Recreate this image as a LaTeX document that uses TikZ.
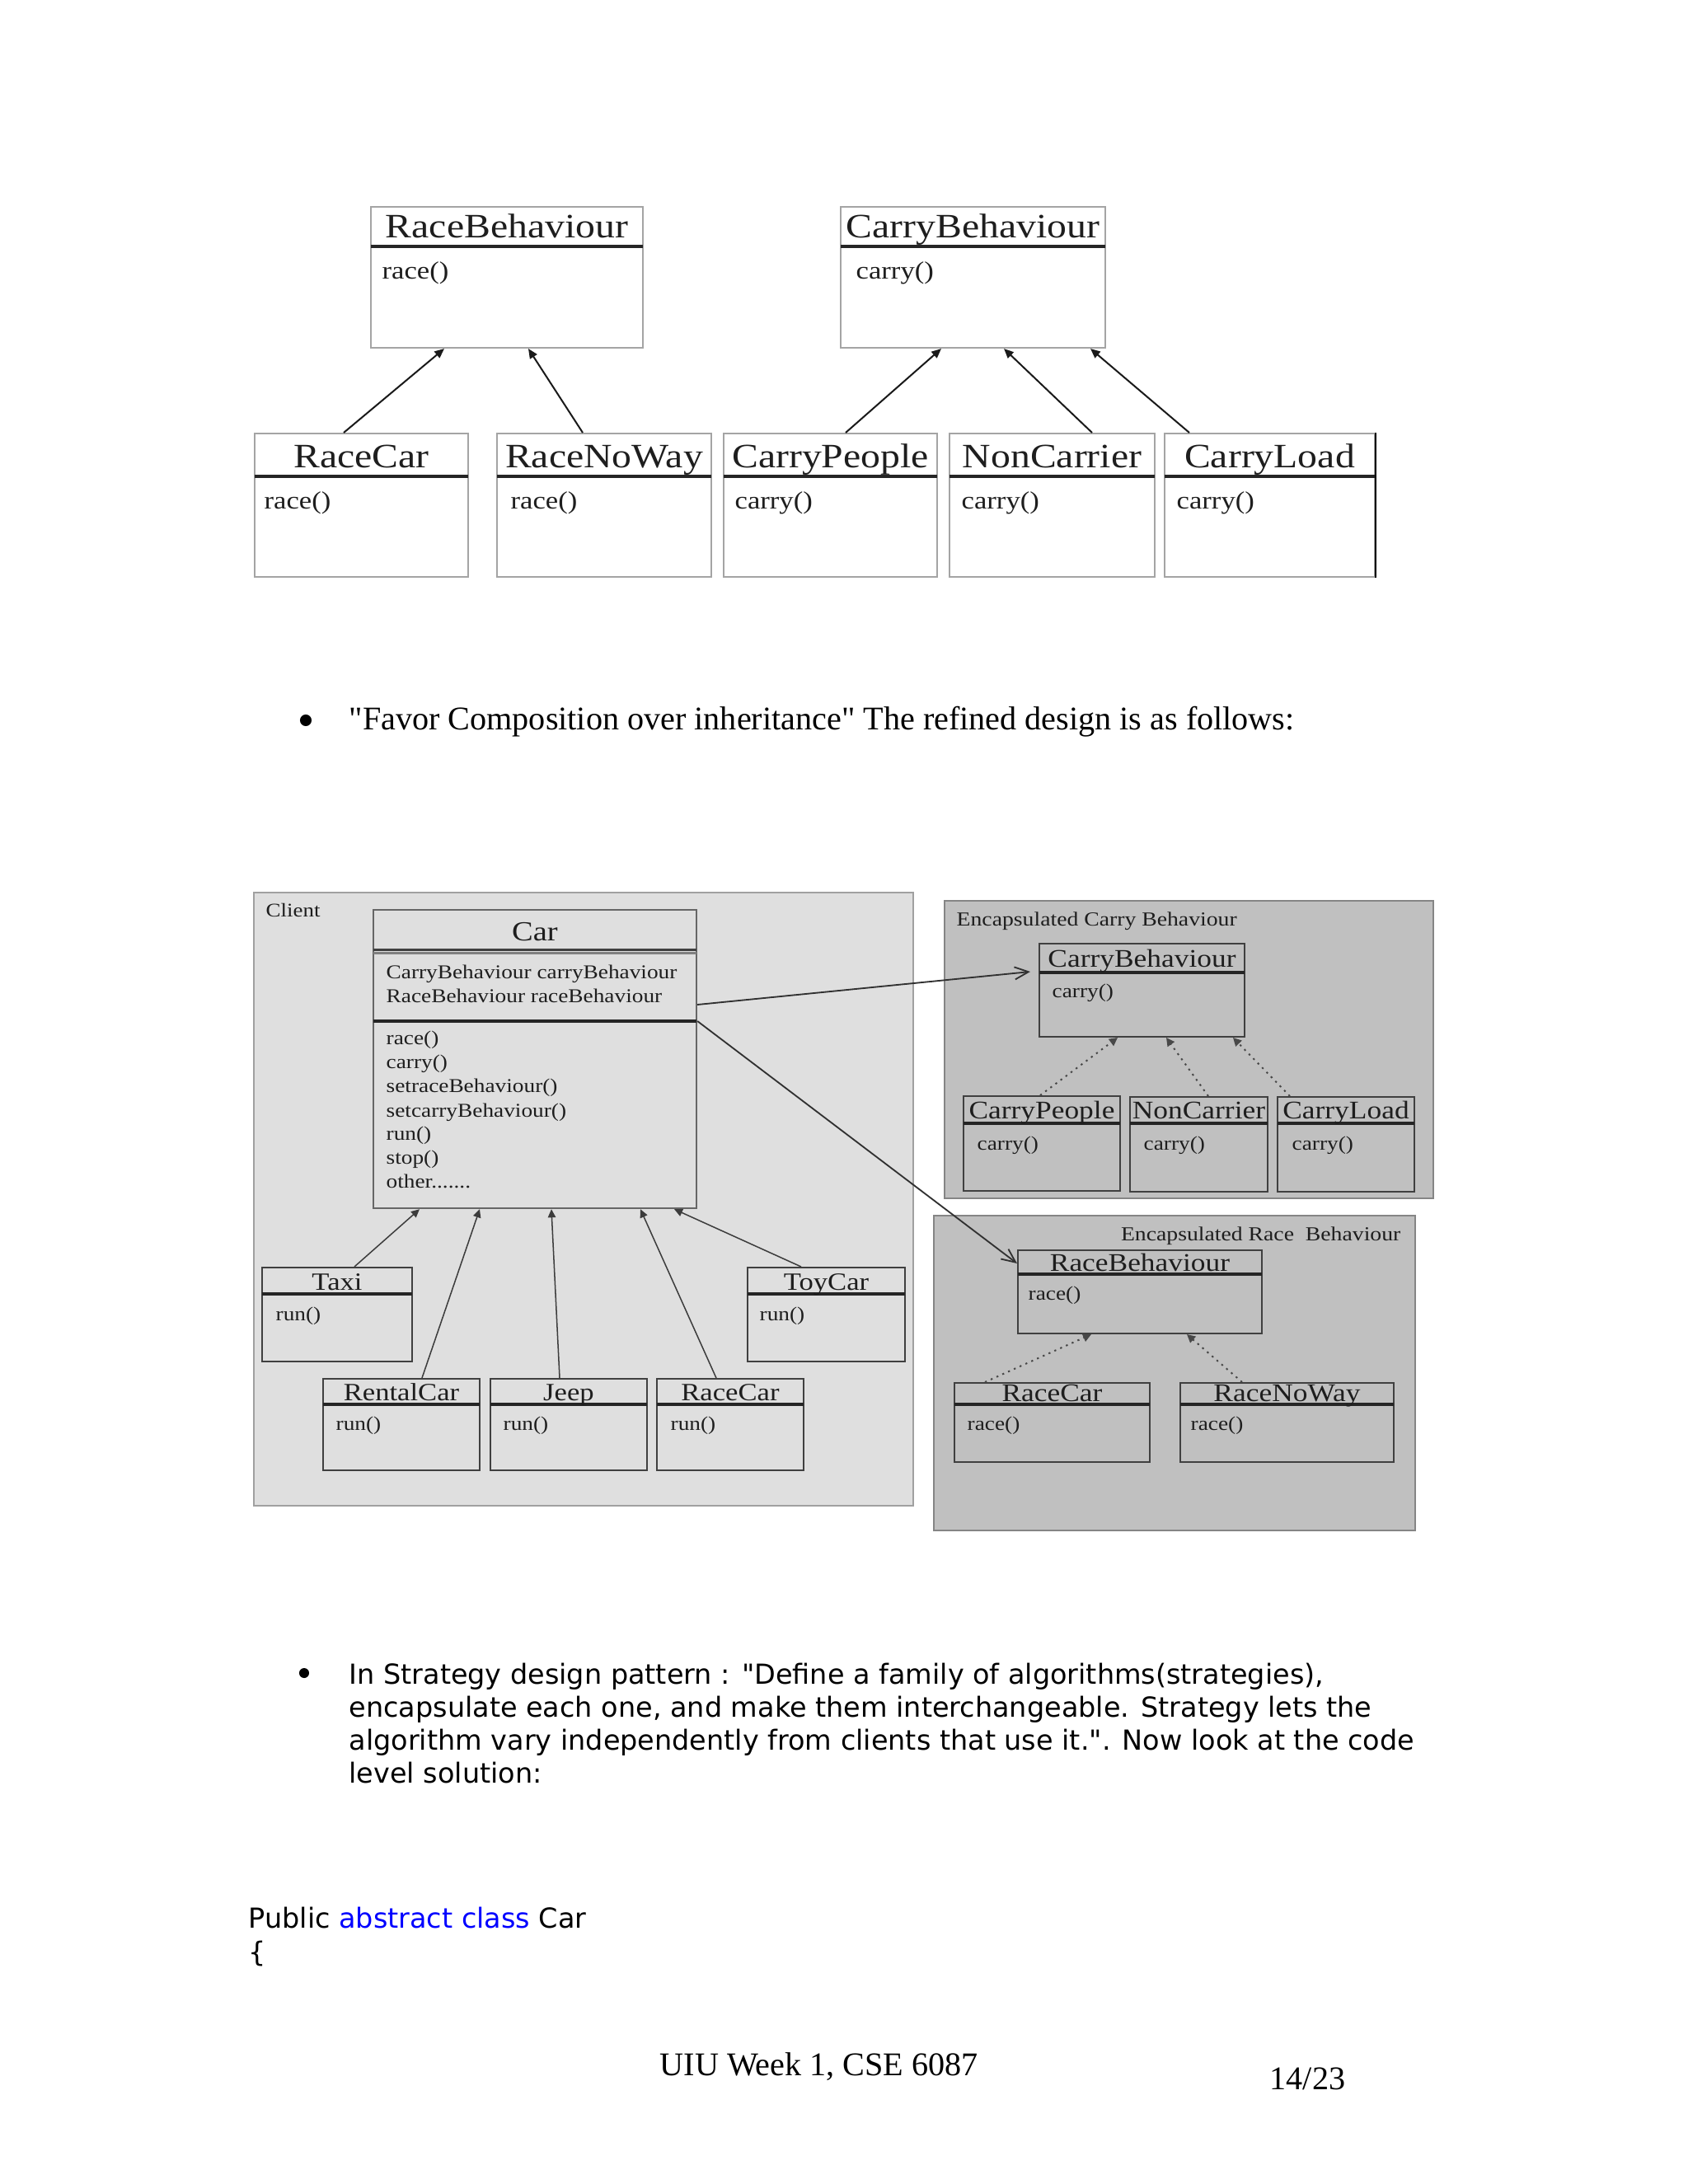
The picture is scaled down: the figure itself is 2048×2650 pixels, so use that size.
\documentclass[tikz,border=0pt]{standalone}
\usepackage{fontspec}
\setmainfont{Liberation Serif}
\newfontfamily\dfont[FakeStretch=1.15]{Liberation Serif}
\newfontfamily\vfont{DejaVu Sans}
\usetikzlibrary{arrows.meta,fit}
\definecolor{topbd}{HTML}{A4A4A4}
\definecolor{divc}{HTML}{252525}
\definecolor{txt}{HTML}{1E1E1E}
\definecolor{clifill}{HTML}{DFDFDF}
\definecolor{clibd}{HTML}{A0A0A0}
\definecolor{encfill}{HTML}{C0C0C0}
\definecolor{encbd}{HTML}{858585}
\definecolor{innerbd}{HTML}{404040}
\definecolor{arrc}{HTML}{1A1A1A}
\definecolor{kwblue}{HTML}{0000FF}
\newcommand{\dsz}[1]{\dfont\fontsize{#1}{#1}\selectfont}
\newcommand{\umlbox}[9]{%
  \node[#1box, fit={(#3,#4) (#5,#6)}] (#2) {};
  \draw[#1div] (#3,#7) -- (#5,#7);
  \node[#1ttl] at ({(#3+#5)/2},#8) {#9};
}
\tikzset{
  topbox/.style={draw=topbd, fill=white, line width=0.6pt, inner sep=0pt},
  topdiv/.style={draw=divc, line width=1pt},
  topttl/.style={anchor=base, inner sep=0pt, text=txt, font=\dsz{12.4}},
  topm/.style={anchor=base west, inner sep=0pt, text=txt, font=\dsz{9}},
  clibox/.style={draw=innerbd, line width=0.6pt, inner sep=0pt},
  clidiv/.style={draw=divc, line width=1pt},
  clittl/.style={anchor=base, inner sep=0pt, text=txt, font=\dsz{9}},
  carbox/.style={draw=innerbd!80!white, line width=0.7pt, inner sep=0pt},
  cardiv/.style={draw=innerbd, line width=0.9pt},
  carttl/.style={anchor=base, inner sep=0pt, text=txt, font=\dsz{10}},
  encbox/.style={draw=innerbd, line width=0.6pt, inner sep=0pt},
  encdiv/.style={draw=divc, line width=1pt},
  encttl/.style={anchor=base, inner sep=0pt, text=txt, font=\dsz{9.2}},
  sm/.style={anchor=base west, inner sep=0pt, text=txt, font=\dsz{7.1}},
  lbl/.style={anchor=base west, inner sep=0pt, text=txt, font=\dsz{7.2}},
  region/.style={inner sep=0pt, line width=0.7pt},
  tarr/.style={draw=arrc, line width=0.6pt, -{Triangle[length=3.5pt,width=3pt]}},
  carr/.style={draw=arrc!85!white, line width=0.45pt, -{Triangle[length=3pt,width=2.8pt]}},
  darr/.style={draw=arrc!80!white, line width=0.6pt, dash pattern=on 0.7pt off 1.6pt, -{Triangle[length=3pt,width=3pt]}},
  assoc/.style={draw=arrc!90!white, line width=0.55pt, -{Straight Barb[length=5pt,width=4.5pt]}},
  body/.style={anchor=base west, inner sep=0pt, font=\fontsize{12}{14}\selectfont},
  vtext/.style={anchor=base west, inner sep=0pt, font=\vfont\fontsize{10}{12}\selectfont},
  bul/.style={circle, fill=black, inner sep=0pt},
}
\begin{document}
\begin{tikzpicture}[x=0.29883pt, y=-0.29883pt]
\useasboundingbox (0,0) rectangle (2048,2650);
\fill[white] (0,0) rectangle (2048,2650);

% ---------------- top diagram ----------------
\umlbox{top}{rbT}{450}{251}{780}{422}{299}{288}{RaceBehaviour}
\node[topm] (rbTm) at (463,338) {race()};
\umlbox{top}{cbT}{1020}{251}{1341}{422}{299}{288}{CarryBehaviour}
\node[topm] (cbTm) at (1038,338) {carry()};
\umlbox{top}{rcT}{309}{526}{568}{700}{578}{567}{RaceCar}
\node[topm] (rcTm) at (320,617) {race()};
\umlbox{top}{rnwT}{603}{526}{863}{700}{578}{567}{RaceNoWay}
\node[topm] (rnwTm) at (619,617) {race()};
\umlbox{top}{cpT}{878}{526}{1137}{700}{578}{567}{CarryPeople}
\node[topm] (cpTm) at (891,617) {carry()};
\umlbox{top}{ncT}{1152}{526}{1401}{700}{578}{567}{NonCarrier}
\node[topm] (ncTm) at (1166,617) {carry()};
\umlbox{top}{clT}{1413}{526}{1668}{700}{578}{567}{CarryLoad}
\node[topm] (clTm) at (1427,617) {carry()};
\draw[black, line width=0.8pt] (clT.north east) -- (clT.south east);

\draw[tarr] (rcT.north -| 417,0) -- (rbT.south -| 539,0);
\draw[tarr] (rnwT.north -| 707,0) -- (rbT.south -| 641,0);
\draw[tarr] (cpT.north -| 1026,0) -- (cbT.south -| 1142,0);
\draw[tarr] (ncT.north -| 1325,0) -- (cbT.south -| 1218,0);
\draw[tarr] (clT.north -| 1443,0) -- (cbT.south -| 1323,0);

% ---------------- bullet 1 ----------------
\node[bul, minimum size=4.2pt] (b1) at (371,874) {};
\node[body] (t1) at (423,885) {\textquotedbl Favor Composition over inheritance\textquotedbl{} The refined design is as follows:};

% ---------------- client region ----------------
\node[region, draw=clibd, fill=clifill, fit={(308,1083) (1108,1827)}] (client) {};
\node[lbl, font=\dsz{7}] (clientl) at (322,1112) {Client};

\node[carbox, fit={(453,1104) (845,1466)}] (car) {};
\draw[cardiv] (453,1152) -- (845,1152);
\draw[draw=gray, line width=0.9pt] (453,1156) -- (845,1156);
\draw[draw=divc, line width=1pt] (453,1239) -- (845,1239);
\node[carttl] (cart) at (649,1141) {Car};
\node[sm] (a1) at (468,1187) {CarryBehaviour carryBehaviour};
\node[sm] (a2) at (468,1216) {RaceBehaviour raceBehaviour};
\node[sm] (m1) at (468,1267) {race()};
\node[sm] (m2) at (468,1296) {carry()};
\node[sm] (m3) at (468,1325) {setraceBehaviour()};
\node[sm] (m4) at (468,1355) {setcarryBehaviour()};
\node[sm] (m5) at (468,1383) {run()};
\node[sm] (m6) at (468,1412) {stop()};
\node[sm] (m7) at (468,1441) {other.......};

\umlbox{cli}{taxi}{318}{1538}{500}{1652}{1570}{1565}{Taxi}
\node[sm] (taxim) at (334,1602) {run()};
\umlbox{cli}{toycar}{907}{1538}{1098}{1652}{1570}{1565}{ToyCar}
\node[sm] (toycarm) at (921,1602) {run()};
\umlbox{cli}{rental}{392}{1673}{582}{1784}{1704}{1699}{RentalCar}
\node[sm] (rentalm) at (407,1735) {run()};
\umlbox{cli}{jeep}{595}{1673}{785}{1784}{1704}{1699}{Jeep}
\node[sm] (jeepm) at (610,1735) {run()};
\umlbox{cli}{racecarB}{797}{1673}{975}{1784}{1704}{1699}{RaceCar}
\node[sm] (racecarBm) at (813,1735) {run()};

\draw[carr] (taxi.north -| 430,0) -- (car.south -| 509,0);
\draw[carr] (rental.north -| 512,0) -- (car.south -| 582,0);
\draw[carr] (jeep.north -| 679,0) -- (car.south -| 669,0);
\draw[carr] (racecarB.north -| 869,0) -- (car.south -| 777,0);
\draw[carr] (toycar.north -| 972,0) -- (car.south -| 818,0);

% ---------------- encapsulated carry ----------------
\node[region, draw=encbd, fill=encfill, fit={(1146,1093) (1739,1454)}] (encC) {};
\node[lbl] (encCl) at (1160,1123) {Encapsulated Carry Behaviour};
\umlbox{enc}{cbB}{1261}{1145}{1510}{1258}{1180}{1173}{CarryBehaviour}
\node[sm] (cbBm) at (1276,1210) {carry()};
\umlbox{enc}{cpB}{1169}{1330}{1359}{1445}{1363}{1357}{CarryPeople}
\node[sm] (cpBm) at (1185,1395) {carry()};
\umlbox{enc}{ncB}{1371}{1331}{1538}{1446}{1363}{1357}{NonCarrier}
\node[sm] (ncBm) at (1387,1395) {carry()};
\umlbox{enc}{clB}{1550}{1331}{1716}{1446}{1363}{1357}{CarryLoad}
\node[sm] (clBm) at (1567,1395) {carry()};
\draw[darr] (cpB.north -| 1262,0) -- (cbB.south -| 1356,0);
\draw[darr] (ncB.north -| 1466,0) -- (cbB.south -| 1415,0);
\draw[darr] (clB.north -| 1565,0) -- (cbB.south -| 1496,0);

% ---------------- encapsulated race ----------------
\node[region, draw=encbd, fill=encfill, fit={(1133,1475) (1717,1857)}] (encR) {};
\node[lbl, anchor=base east] (encRl) at (1700,1505) {Encapsulated Race\ \ Behaviour};
\umlbox{enc}{rbB}{1235}{1517}{1531}{1618}{1546}{1542}{RaceBehaviour}
\node[sm] (rbBm) at (1247,1577) {race()};
\umlbox{enc}{rcB}{1158}{1678}{1395}{1774}{1704}{1700}{RaceCar}
\node[sm] (rcBm) at (1173,1735) {race()};
\umlbox{enc}{rnwB}{1432}{1678}{1691}{1774}{1704}{1700}{RaceNoWay}
\node[sm] (rnwBm) at (1444,1735) {race()};
\draw[darr] (rcB.north -| 1195,0) -- (rbB.south -| 1324,0);
\draw[darr] (rnwB.north -| 1507,0) -- (rbB.south -| 1440,0);

% ---------------- associations ----------------
\draw[assoc, shorten >=3pt] (car.east |- 0,1219) -- (cbB.west |- 0,1178);
\draw[assoc] (car.east |- 0,1239) -- (rbB.west |- 0,1533);

% ---------------- bullet 2 ----------------
\node[bul, minimum size=3.6pt] (b2) at (369,2030) {};
\node[vtext] (l1) at (423,2043) {In Strategy design pattern : "Define a family of algorithms(strategies),};
\node[vtext] (l2) at (423,2083) {encapsulate each one, and make them interchangeable. Strategy lets the};
\node[vtext] (l3) at (423,2123) {algorithm vary independently from clients that use it.". Now look at the code};
\node[vtext] (l4) at (423,2163) {level solution:};

\node[vtext] (code1) at (301,2339) {Public \textcolor{kwblue}{abstract class} Car};
\node[vtext] (code2) at (301,2380) {\{};

% ---------------- footer ----------------
\node[body] (foot) at (800,2518) {UIU Week 1, CSE 6087};
\node[body] (page) at (1540,2535) {14/23};
\end{tikzpicture}
\end{document}
